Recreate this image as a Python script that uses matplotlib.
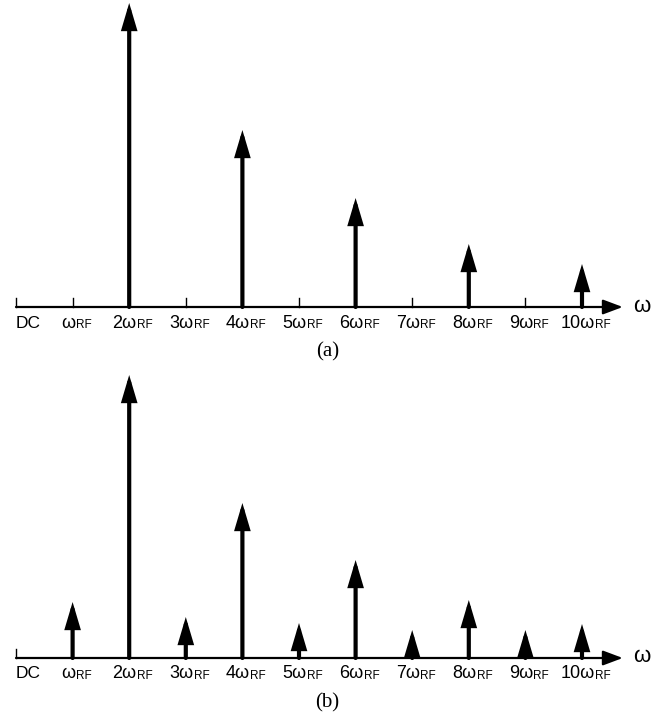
import matplotlib
matplotlib.use("Agg")
import matplotlib.pyplot as plt
from matplotlib.patches import FancyArrowPatch

plt.rcParams['font.family'] = ['Liberation Sans', 'DejaVu Sans']

# harmonic index 0..10 (DC, wRF, 2wRF, ...)
harmonics = list(range(11))
tick_main = ['DC', 'ω'] + ['%dω' % k for k in range(2, 11)]
tick_sub = [''] + ['RF'] * 10

# (a) only even harmonics present
harm_a = [2, 4, 6, 8, 10]
amp_a = [304, 177, 109, 63, 43]
tick_only_a = [0, 1, 3, 5, 7, 9]

# (b) all harmonics present
harm_b = [1, 2, 3, 4, 5, 6, 7, 8, 9, 10]
amp_b = [56, 283, 41, 155, 35, 98, 28, 58, 28, 34]
tick_only_b = [0]

W, H = 661, 719
fig = plt.figure(figsize=(W / 100, H / 100), dpi=100)
ax_a = fig.add_axes([0, (H - 360) / H, 1, 360 / H])
ax_b = fig.add_axes([0, 0, 1, 359 / H])

step = 56.6
x0 = 16


def draw(ax, harm, amp, ticks, ybot, ytop, caption):
    ax.set_xlim(-x0 / step, (W - x0) / step)
    ax.set_ylim(ybot, ytop)
    ax.axis('off')
    # frequency axis with arrow
    ax.add_patch(FancyArrowPatch((0, 0), (10.72, 0), arrowstyle='-|>,head_length=12,head_width=4.5',
                                 mutation_scale=1, lw=1.6, color='black', shrinkA=0, shrinkB=0))
    ax.text(11.05, 1, 'ω', fontsize=16, ha='center', va='center')
    for k in ticks:
        ax.plot([k, k], [0, 9], color='black', lw=1.0)
    # spectral lines
    for k, a in zip(harm, amp):
        ax.add_patch(FancyArrowPatch((k, 0), (k, a), arrowstyle='-|>,head_length=13.5,head_width=4',
                                     mutation_scale=1, lw=3, color='black',
                                     shrinkA=0, shrinkB=0, joinstyle='miter'))
    # tick labels: "kω" with a small "RF" after it
    for k in harmonics:
        if k == 0:
            ax.text(0.0, -16, tick_main[k], fontsize=12.5, ha='left', va='center')
            continue
        t = ax.text(k - 0.08, -16, tick_main[k], fontsize=13, ha='center', va='center')
        ax.annotate(tick_sub[k], xy=(1, 0), xycoords=t, xytext=(0.3, 0.3),
                    textcoords='offset points', fontsize=8.5, ha='left', va='bottom')
    ax.text(5.5, -45, caption, fontsize=15, family='Liberation Serif', ha='center', va='center')


draw(ax_a, harm_a, amp_a, tick_only_a, -53, 307, '(a)')
draw(ax_b, harm_b, amp_b, tick_only_b, -61, 298, '(b)')

fig.savefig('out.png', dpi=100)
